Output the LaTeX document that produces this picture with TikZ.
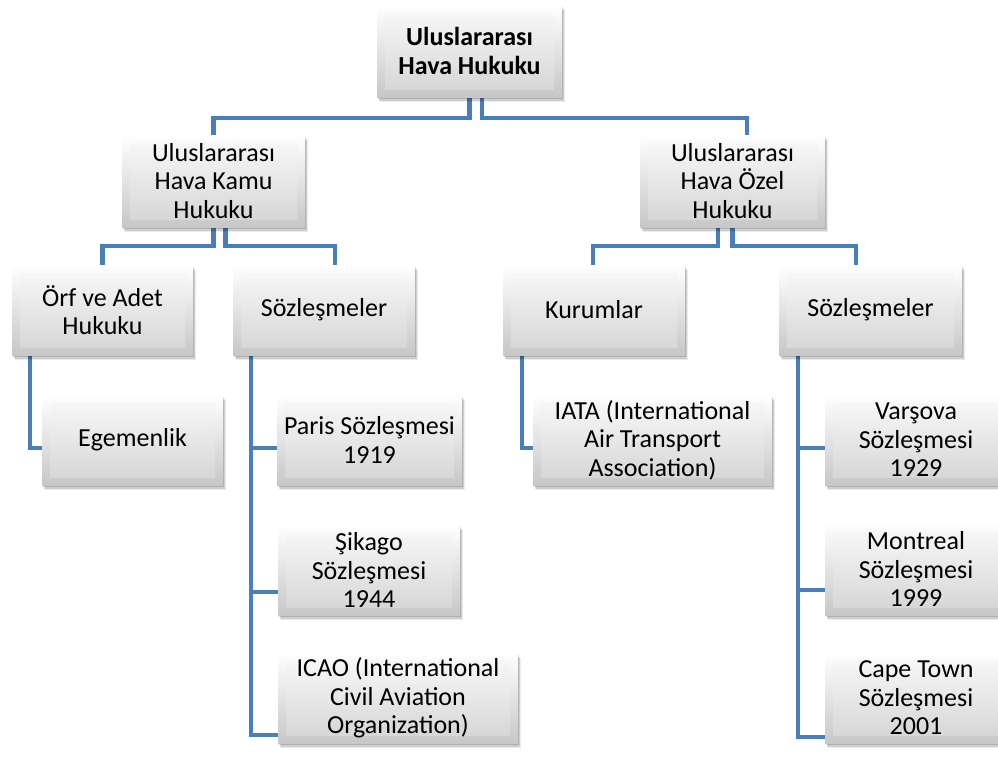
\documentclass[tikz,border=0pt]{standalone}
\usepackage{fontspec}
\setmainfont{Carlito}
\usetikzlibrary{shadows}
\pgfdeclarelayer{bg}
\pgfdeclarelayer{lines}
\pgfsetlayers{bg,lines,main}
\definecolor{connblue}{RGB}{74,126,187}
\tikzset{
  bx/.style={rectangle, inner sep=0pt, align=center,
    font=\fontsize{26}{28.5}\selectfont, text=black,
    top color=white, bottom color=black!22, draw=none,
    drop shadow={shadow xshift=3pt, shadow yshift=-5pt, fill=black, opacity=0.08},
    drop shadow={shadow xshift=2pt, shadow yshift=-3.5pt, fill=black, opacity=0.12},
    drop shadow={shadow xshift=1pt, shadow yshift=-2pt, fill=black, opacity=0.15},
    path picture={\shade[top color=black!2, bottom color=black!17]
      ([xshift=8pt,yshift=-8pt]path picture bounding box.north west) rectangle
      ([xshift=-8pt,yshift=8pt]path picture bounding box.south east);}},
  conn/.style={draw=connblue, line width=4.5pt, line cap=butt, line join=miter}
}
\begin{document}
\begin{tikzpicture}[x=1pt,y=-1pt]
\begin{pgfonlayer}{bg}
  \fill[white] (0,0) rectangle (998,771);
\end{pgfonlayer}
\useasboundingbox (0,0) rectangle (998,771);

\node[bx, minimum width=185pt, minimum height=92pt, font=\fontsize{26}{28.5}\selectfont\bfseries] (root) at (469.5,51) {Uluslararası\\Hava Hukuku};

\node[bx, minimum width=183pt, minimum height=92pt] (kamu) at (213.5,181) {Uluslararası\\Hava Kamu\\Hukuku};
\node[bx, minimum width=185pt, minimum height=92pt] (ozel) at (732.5,181) {Uluslararası\\Hava Özel\\Hukuku};

\node[bx, minimum width=181pt, minimum height=90pt] (orf) at (102.5,310) {Örf ve Adet\\Hukuku};
\node[bx, minimum width=182pt, minimum height=90pt] (soz1) at (324,310) {Sözleşmeler};
\node[bx, minimum width=182pt, minimum height=90pt] (kur) at (594,310) {Kurumlar};
\node[bx, minimum width=183pt, minimum height=90pt] (soz2) at (870.5,310) {Sözleşmeler};

\node[bx, minimum width=181pt, minimum height=90pt] (ege) at (132.5,440) {Egemenlik};
\node[bx, minimum width=185pt, minimum height=90pt] (paris) at (369.5,440) {Paris Sözleşmesi\\1919};
\node[bx, minimum width=182pt, minimum height=90pt] (sikago) at (369,570) {Şikago\\Sözleşmesi\\1944};
\node[bx, minimum width=240pt, minimum height=90pt] (icao) at (398,698) {ICAO (International\\Civil Aviation\\Organization)};
\node[bx, minimum width=239pt, minimum height=90pt] (iata) at (652.5,440) {IATA (International\\Air Transport\\Association)};
\node[bx, minimum width=182pt, minimum height=90pt] (varsova) at (916,440) {Varşova\\Sözleşmesi\\1929};
\node[bx, minimum width=182pt, minimum height=92pt] (montreal) at (916,569) {Montreal\\Sözleşmesi\\1999};
\node[bx, minimum width=182pt, minimum height=90pt] (cape) at (916,698) {Cape Town\\Sözleşmesi\\2001};

\begin{pgfonlayer}{lines}
  \draw[conn] (root.south) -- ++(0,21) -| (kamu.north);
  \draw[conn] ([xshift=12.5pt]root.south) -- ++(0,21) -| ([xshift=14.5pt]ozel.north);
  \draw[conn] (kamu.south) -- ++(0,19) -| (orf.north);
  \draw[conn] ([xshift=12pt]kamu.south) -- ++(0,19) -| ([xshift=11pt]soz1.north);
  \draw[conn] ([xshift=-14.5pt]ozel.south) -- ++(0,19) -| ([xshift=-1pt]kur.north);
  \draw[conn] (ozel.south) -- ++(0,19) -| ([xshift=-14.5pt]soz2.north);
  \draw[conn] ([xshift=-72.5pt]orf.south) |- ([yshift=-8pt]ege.west);
  \draw[conn] ([xshift=-73pt]soz1.south) |- ([yshift=-8pt]paris.west);
  \draw[conn] ([xshift=-73pt]soz1.south) |- ([yshift=-22pt]sikago.west);
  \draw[conn] ([xshift=-73pt]soz1.south) |- ([yshift=-37pt]icao.west);
  \draw[conn] ([xshift=-72pt]kur.south) |- ([yshift=-8pt]iata.west);
  \draw[conn] ([xshift=-72.5pt]soz2.south) |- ([yshift=-8pt]varsova.west);
  \draw[conn] ([xshift=-72.5pt]soz2.south) |- ([yshift=-21pt]montreal.west);
  \draw[conn] ([xshift=-72.5pt]soz2.south) |- ([yshift=-39pt]cape.west);
\end{pgfonlayer}
\end{tikzpicture}
\end{document}
